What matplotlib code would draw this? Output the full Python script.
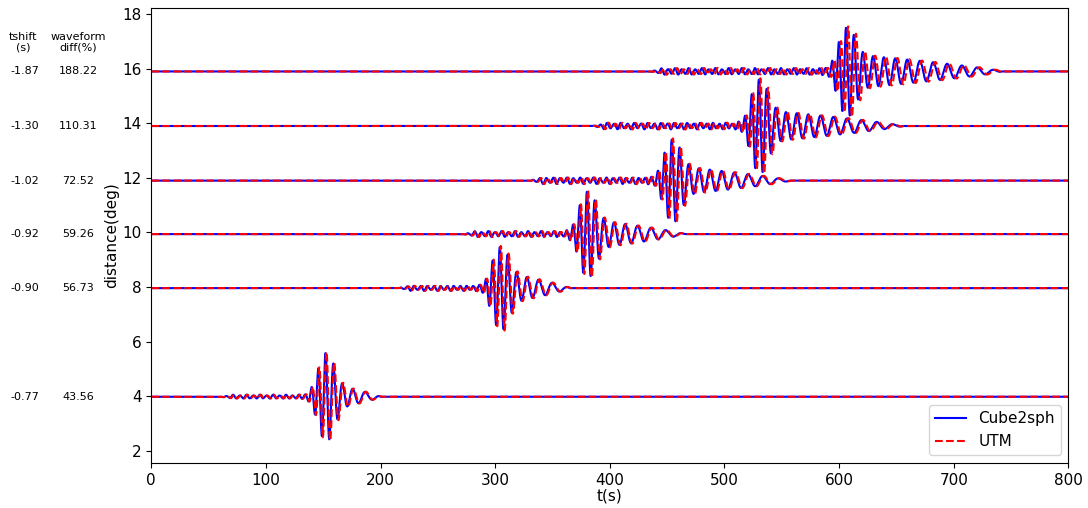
import numpy as np
import matplotlib
matplotlib.use("Agg")
import matplotlib.pyplot as plt
from matplotlib.transforms import blended_transform_factory

# values
distances = [3.98, 7.96, 9.94, 11.9, 13.9, 15.9]      # baseline of each trace (deg)
tshift = [-0.77, -0.90, -0.92, -1.02, -1.30, -1.87]   # s
wdiff = [43.56, 56.73, 59.26, 72.52, 110.31, 188.22]  # %
t_noise = [60, 215, 272, 330, 385, 435]     # onset of small precursor wiggles (s)
t_main = [152, 304, 380, 454, 530, 606]     # centre of the large swings (s)
t_end = [200, 365, 465, 557, 655, 742]      # end of the coda (s)
amp_main = [1.6, 1.5, 1.55, 1.5, 1.7, 1.6]  # peak amplitude (deg units)
amp_coda = [0.5, 0.6, 0.55, 0.55, 0.6, 0.65]
amp_pre = [0.06, 0.08, 0.09, 0.1, 0.1, 0.1]

t = np.arange(0, 800, 0.1)


def trace(i, shift=0.0, scale=1.0):
    tt = t - shift
    t0, tm, te = t_noise[i], t_main[i], t_end[i]
    # period grows through the packet (dispersion)
    per = np.interp(tt, [t0, tm - 15, tm, tm + 20, te], [6.0, 5.5, 6.5, 9.0, 15.0])
    ph = 2 * np.pi * np.cumsum(1.0 / per) * 0.1
    ph -= np.interp(tm, tt, ph)
    pre = amp_pre[i] * np.clip((tt - t0) / 10, 0, 1) * np.clip((tm - tt) / 8, 0, 1)
    pre *= 0.75 + 0.5 * np.cos(2 * np.pi * (tt - t0) / 23.0) ** 2
    main = amp_main[i] * np.exp(-0.5 * ((tt - tm) / 6.5) ** 2)
    coda = amp_coda[i] * np.clip((tt - tm) / 10, 0, 1) * np.clip((te - tt) / (te - tm), 0, 1) ** 0.8
    return scale * (pre + main + coda) * np.cos(ph)


fig = plt.figure(figsize=(10.88, 5.08), dpi=100)
ax = fig.add_axes([0.139, 0.089, 0.843, 0.895])

for i, d in enumerate(distances):
    lab1 = "Cube2sph" if i == 0 else None
    lab2 = "UTM" if i == 0 else None
    ax.plot(t, d + trace(i), color="blue", lw=1.5, label=lab1)
    ax.plot(t, d + trace(i, shift=-tshift[i], scale=1.03), color="red", ls="--", lw=1.5, label=lab2)

ax.set_xlim(0, 800)
ax.set_ylim(1.56, 18.22)
ax.set_xticks(range(0, 801, 100))
ax.set_yticks(range(2, 19, 2))
ax.tick_params(labelsize=11)
ax.set_xlabel("t(s)", fontsize=11, labelpad=1)
ax.set_ylabel("distance(deg)", fontsize=11, labelpad=2)
ax.legend(loc="lower right", fontsize=11)

# side table: time shift and waveform difference per trace
tr = blended_transform_factory(fig.transFigure, ax.transData)
for i, d in enumerate(distances):
    ax.text(0.023, d, f"{tshift[i]:.2f}", transform=tr, ha="center", va="center", fontsize=8)
    ax.text(0.072, d, f"{wdiff[i]:.2f}", transform=tr, ha="center", va="center", fontsize=8)

fig.text(0.021, 0.917, "tshift\n(s)", ha="center", va="center", fontsize=8, linespacing=1.0)
fig.text(0.072, 0.917, "waveform\ndiff(%)", ha="center", va="center", fontsize=8, linespacing=1.0)

fig.savefig("out.png", dpi=100)
